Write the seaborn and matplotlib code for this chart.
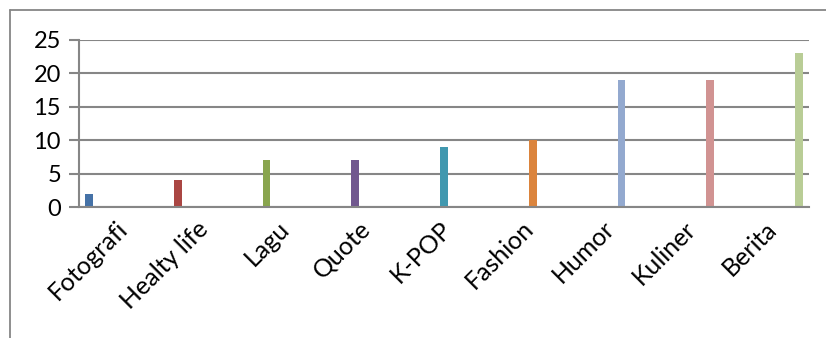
import numpy as np
import pandas as pd
import seaborn as sns
from matplotlib import pyplot as plt
from matplotlib.lines import Line2D
from matplotlib.transforms import ScaledTranslation

#%%
categories = ["Fotografi", "Healty life", "Lagu", "Quote", "K-POP", "Fashion", "Humor", "Kuliner", "Berita"]
values = [2, 4, 7, 7, 9, 10, 19, 19, 23]
bar_colors = ["#4572A7", "#AA4643", "#89A54E", "#71588F", "#4198AF",
              "#DB843D", "#93A9CF", "#D19392", "#B9CD96"]
y_ticks = [0, 5, 10, 15, 20, 25]

grey = "#868686"

#%%
sns.set_theme(style="white")
plt.rcParams["font.family"] = ["Lato", "DejaVu Sans"]

table = pd.DataFrame({"kategori": categories, "jumlah": values})

fig = plt.figure(figsize=(8.26, 3.38), dpi=100)
ax = fig.add_axes([79 / 826, 1 - 207 / 338, (809 - 79) / 826, (207 - 39.5) / 338])

sns.barplot(data=table, x="kategori", y="jumlah", hue="kategori", order=categories,
            hue_order=categories, palette=bar_colors, dodge=True, width=0.85,
            saturation=1, linewidth=0, legend=False, ax=ax)

ax.set_xlim(-0.5, len(categories) - 0.5)
ax.set_ylim(0, 25)
ax.set_yticks(y_ticks)
ax.set_yticklabels([str(v) for v in y_ticks], fontsize=17, color="black")
ax.set_xticks(np.arange(len(categories)))
ax.set_xticklabels(categories, rotation=45, ha="right", rotation_mode="anchor",
                   fontsize=18, color="black")
ax.set_xticks(np.arange(-0.5, len(categories), 1), minor=True)
ax.tick_params(axis="x", which="major", length=0, pad=7)
ax.tick_params(axis="x", which="minor", length=7, width=1.5, color=grey, direction="out")
ax.tick_params(axis="y", length=7, width=1.5, color=grey, direction="out", pad=6, left=True)
ax.set_xlabel("")
ax.set_ylabel("")

# nudge the slanted labels a little to the left
shift = ScaledTranslation(-4 / 100, 0, fig.dpi_scale_trans)
for lbl in ax.get_xticklabels():
    lbl.set_transform(lbl.get_transform() + shift)

ax.yaxis.grid(True, color=grey, linewidth=1.5)
ax.set_axisbelow(True)
for side in ["top", "right"]:
    ax.spines[side].set_visible(False)
for side in ["left", "bottom"]:
    ax.spines[side].set_color(grey)
    ax.spines[side].set_linewidth(1.5)

# chart area border (only top and left edges fall inside the picture)
fig.add_artist(Line2D([10 / 826, 1], [1 - 10 / 338, 1 - 10 / 338], color=grey, linewidth=1.3,
                      transform=fig.transFigure))
fig.add_artist(Line2D([10 / 826, 10 / 826], [0, 1 - 10 / 338], color=grey, linewidth=1.3,
                      transform=fig.transFigure))

fig.savefig("out.png", dpi=100)
